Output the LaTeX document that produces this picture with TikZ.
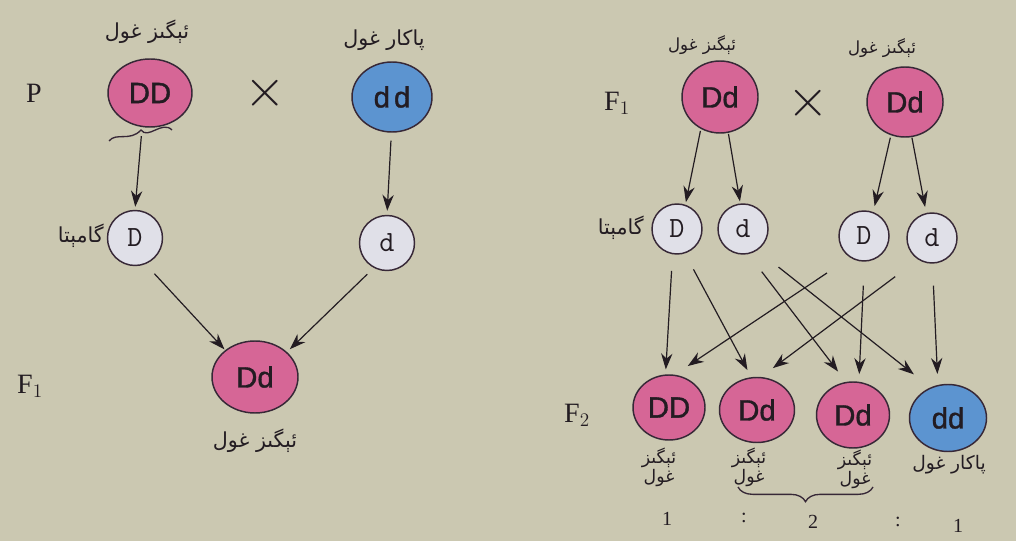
\documentclass[tikz,border=0pt]{standalone}
\usepackage{fontspec}
\usetikzlibrary{shapes.geometric,arrows.meta,decorations.pathreplacing}
\setmainfont{Liberation Serif}
\newfontfamily\arabicfont[Script=Arabic]{DejaVu Sans}
\newfontfamily\sansf[FakeBold=1.2]{Liberation Sans}
\TeXXeTstate=1
\newdimen\px \px=0.75pt
\definecolor{paper}{RGB}{203,200,177}
\definecolor{pinkc}{RGB}{214,102,150}
\definecolor{bluec}{RGB}{92,148,208}
\definecolor{gamc}{RGB}{224,224,232}
\definecolor{edge}{RGB}{55,40,55}
\definecolor{inkc}{RGB}{35,28,34}
\tikzset{
  parent/.style={ellipse, draw=edge, line width=1.1pt, inner sep=0pt, text=inkc,
    font=\sansf\fontsize{22}{22}\selectfont},
  pinkpar/.style={parent, fill=pinkc},
  bluepar/.style={parent, fill=bluec},
  gam/.style={circle, draw=edge, line width=1.1pt, fill=gamc, inner sep=0pt, text=inkc,
    font=\ttfamily\fontsize{22}{22}\selectfont},
  arr/.style={-{Stealth[length=12pt,width=8.5pt]}, line width=0.9pt, draw=inkc},
  lab/.style={text=inkc, inner sep=0pt, font=\arabicfont\fontsize{15.5}{18}\selectfont},
  rlab/.style={text=inkc, inner sep=0pt, font=\arabicfont\fontsize{12.5}{15}\selectfont},
  smalllab/.style={text=inkc, inner sep=0pt, align=center, font=\arabicfont\fontsize{13}{12}\selectfont},
  gen/.style={text=inkc, inner sep=0pt, font=\fontsize{21}{21}\selectfont},
  ratio/.style={text=inkc, inner sep=0pt, font=\fontsize{15}{15}\selectfont},
  cross/.style={text=inkc, inner sep=0pt, scale=4},
}
\begin{document}
\begin{tikzpicture}[x=0.75pt, y=-0.75pt]
\useasboundingbox (0,0) rectangle (1016,541);
\fill[paper] (0,0) rectangle (1016,541);

% ---------- left cross ----------
\node[gen] (P) at (34,93) {P};
\node[gen] (LF1) at (30,386) {F$_1$};
\node[lab] (lt1) at (147,32) {\beginR ئېگىز غول\endR};
\node[lab] (lt2) at (384,40) {\beginR پاكار غول\endR};
\node[pinkpar, minimum width=84\px, minimum height=68\px] (P1) at (150,93) {DD};
\node[cross] (x1) at (265,93) {$\times$};
\node[bluepar, minimum width=80\px, minimum height=70\px] (P2) at (392,97) {d\kern3pt d};
\draw[edge, line width=1pt] (109,141) .. controls (116,132) and (130,142) .. (141,130)
  .. controls (148,140) and (162,120) .. (172,130);
\node[gam, minimum size=55\px] (g1) at (135,238) {D};
\node[gam, minimum size=55\px] (g2) at (387,243) {d};
\node[lab, anchor=east] (glab1) at (104,236) {\beginR گامېتا\endR};
\node[pinkpar, minimum width=86\px, minimum height=72\px] (F1) at (255,377) {Dd};
\node[lab] (lt3) at (255,441) {\beginR ئېگىز غول\endR};

\draw[arr, shorten <=9\px, shorten >=3\px] (P1.-103) -- (g1.90);
\draw[arr, shorten <=8\px, shorten >=4\px] (P2.-91) -- (g2.90);
\draw[arr, shorten <=13\px, shorten >=1\px] (g1.-68) -- (F1.138);
\draw[arr, shorten <=9\px, shorten >=4\px] (g2.-118) -- (F1.38);

% ---------- right cross ----------
\node[gen] (RF1) at (617,103) {F$_1$};
\node[rlab] (rt1) at (702,45) {\beginR ئېگىز غول\endR};
\node[rlab] (rt2) at (882,48) {\beginR ئېگىز غول\endR};
\node[pinkpar, minimum width=76\px, minimum height=72\px] (Q1) at (720,97) {Dd};
\node[cross] (x2) at (808,103) {$\times$};
\node[pinkpar, minimum width=76\px, minimum height=70\px] (Q2) at (905,102) {Dd};
\node[gam, minimum size=50\px] (h1) at (677,229) {D};
\node[gam, minimum size=50\px] (h2) at (743,229) {d};
\node[gam, minimum size=50\px] (h3) at (864,236) {D};
\node[gam, minimum size=50\px] (h4) at (932,238) {d};
\node[lab, anchor=east] (glab2) at (644,228) {\beginR گامېتا\endR};

\draw[arr, shorten <=2\px, shorten >=2.5\px] (Q1.-121) -- (h1.71);
\draw[arr, shorten <=1\px, shorten >=2\px] (Q1.-77) -- (h2.96);
\draw[arr, shorten <=2.5\px, shorten >=6\px] (Q2.-113) -- (h3.69);
\draw[arr, shorten <=0.5\px, shorten >=6\px] (Q2.-79) -- (h4.103);

\node[gen] (LF2) at (577,415) {F$_2$};
\node[pinkpar, minimum width=72\px, minimum height=65\px] (r1) at (669,407.5) {DD};
\node[pinkpar, minimum width=75\px, minimum height=65\px] (r2) at (757,410) {Dd};
\node[pinkpar, minimum width=73\px, minimum height=66\px] (r3) at (853,415) {Dd};
\node[bluepar, minimum width=77\px, minimum height=67\px] (r4) at (948,418) {dd};

\draw[arr, shorten <=16.6\px, shorten >=5\px] (h1.-100) -- (r1.96);
\draw[arr, shorten <=18\px, shorten >=8\px] (h1.-72) -- (r2.100);
\draw[arr, shorten <=22\px, shorten >=13\px] (h2.-78) -- (r3.102);
\draw[arr, shorten <=27\px, shorten >=21\px] (h2.-56) -- (r4.120);
\draw[arr, shorten <=27.7\px, shorten >=15.6\px] (h3.-123) -- (r1.80);
\draw[arr, shorten <=24\px, shorten >=7.6\px] (h3.-89) -- (r3.80);
\draw[arr, shorten <=28.5\px, shorten >=14.8\px] (h4.-123) -- (r2.83);
\draw[arr, shorten <=22\px, shorten >=11\px] (h4.-89) -- (r4.107);

\node[smalllab] (s1) at (659,467) {\beginR ئېگىز\endR\\\beginR غول\endR};
\node[smalllab] (s2) at (749,467) {\beginR ئېگىز\endR\\\beginR غول\endR};
\node[smalllab] (s3) at (855,469) {\beginR ئېگىز\endR\\\beginR غول\endR};
\node[rlab, font=\arabicfont\fontsize{14}{15}\selectfont] (s4) at (949,465) {\beginR پاكار غول\endR};

\coordinate (bl) at (738,487);
\coordinate (br) at (873,487);
\draw[edge, line width=1pt, decorate, decoration={brace, amplitude=11pt, mirror}] (bl) -- (br);

\node[ratio] (n1) at (667,519) {1};
\node[ratio] (c1) at (744,518) {:};
\node[ratio] (n2) at (813,522) {2};
\node[ratio] (c2) at (898,522) {:};
\node[ratio] (n3) at (958,526) {1};
\end{tikzpicture}
\end{document}
